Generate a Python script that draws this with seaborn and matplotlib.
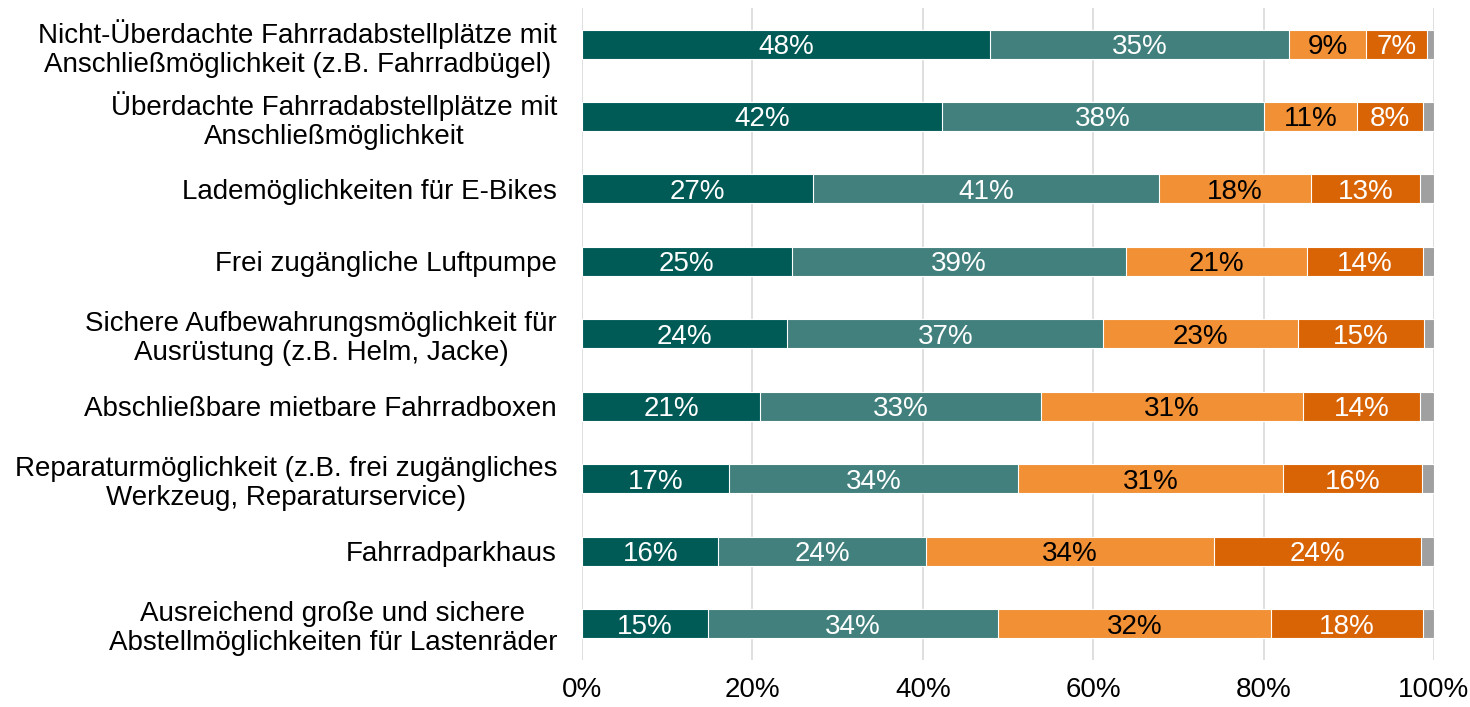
import matplotlib
matplotlib.use("Agg")
import matplotlib.pyplot as plt
import seaborn as sns
import pandas as pd
import numpy as np

categories = [
    "Nicht-Überdachte Fahrradabstellplätze mit\nAnschließmöglichkeit (z.B. Fahrradbügel)",
    "Überdachte Fahrradabstellplätze mit\nAnschließmöglichkeit",
    "Lademöglichkeiten für E-Bikes",
    "Frei zugängliche Luftpumpe",
    "Sichere Aufbewahrungsmöglichkeit für\nAusrüstung (z.B. Helm, Jacke)",
    "Abschließbare mietbare Fahrradboxen",
    "Reparaturmöglichkeit (z.B. frei zugängliches\nWerkzeug, Reparaturservice)",
    "Fahrradparkhaus",
    "Ausreichend große und sichere\nAbstellmöglichkeiten für Lastenräder",
]
seg1 = [47.9, 42.3, 27.1, 24.6, 24.1, 20.9, 17.3, 16.0, 14.8]
seg2 = [35.1, 37.7, 40.6, 39.2, 37.1, 33.0, 33.9, 24.4, 34.0]
seg3 = [9.0, 11.0, 17.9, 21.3, 22.8, 30.7, 31.1, 33.8, 32.1]
seg4 = [7.2, 7.7, 12.8, 13.6, 14.8, 13.8, 16.3, 24.3, 17.8]
seg5 = [0.8, 1.3, 1.6, 1.4, 1.2, 1.6, 1.4, 1.5, 1.3]
xticks = [0, 20, 40, 60, 80, 100]
xticklabels = ["0%", "20%", "40%", "60%", "80%", "100%"]

colors = ["#005A56", "#41807D", "#F19035", "#D96405", "#A0A0A0"]
text_colors = ["white", "white", "black", "white", None]

sns.set_theme(style="white")
plt.rcParams["font.family"] = ["Liberation Sans", "DejaVu Sans"]

segs = [seg1, seg2, seg3, seg4, seg5]
cum = np.cumsum(np.array(segs), axis=0)

fig = plt.figure(figsize=(14.7, 7.07), dpi=100)
ax = fig.add_axes([0.396, 0.0665, 0.5795, 0.9225])

for i in range(len(segs) - 1, -1, -1):
    df = pd.DataFrame({"cat": categories, "val": cum[i]})
    sns.barplot(data=df, y="cat", x="val", orient="h", color=colors[i],
                saturation=1, width=0.4, edgecolor="white", linewidth=0.8,
                ax=ax, zorder=2)

for i in range(len(segs)):
    if text_colors[i] is None:
        continue
    for j, v in enumerate(segs[i]):
        left = cum[i][j] - v
        ax.text(left + v / 2, j, f"{round(v)}%", ha="center",
                va="center_baseline", color=text_colors[i], fontsize=20,
                zorder=3)

ax.set_xlim(0, 100)
ax.set_ylim(len(categories) - 0.5, -0.5)
ax.set_xticks(xticks)
ax.set_xticklabels(xticklabels, fontsize=20, color="black")
ax.set_xlabel("")
ax.set_ylabel("")
ax.tick_params(axis="y", length=0, pad=18, labelsize=20, labelcolor="black")
ax.tick_params(axis="x", length=0, pad=12)
for lab in ax.get_yticklabels():
    lab.set_multialignment("center")
    lab.set_linespacing(1.15)
ax.grid(axis="x", color="#D9D9D9", linewidth=1.2, zorder=0)
ax.set_axisbelow(True)
for s in ax.spines.values():
    s.set_visible(False)

fig.savefig("out.png", dpi=100)
